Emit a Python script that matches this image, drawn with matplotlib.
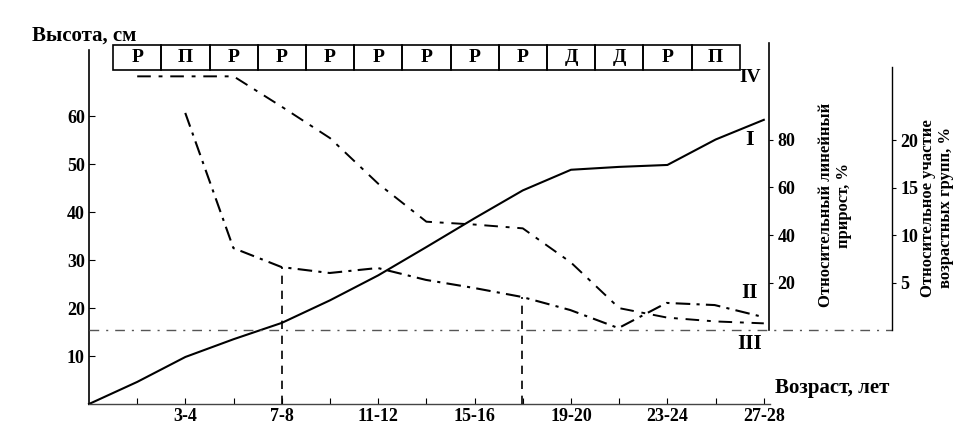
import numpy as np
import matplotlib
matplotlib.use('Agg')
import matplotlib.pyplot as plt
from matplotlib.patches import Rectangle

plt.rcParams['font.family'] = ['Liberation Serif', 'DejaVu Serif']
plt.rcParams['font.weight'] = 'bold'

# Age groups (index 1..14), labels under every second group
groups = np.arange(0, 15)
age_labels = ['', '', '3-4', '', '7-8', '', '11-12', '', '15-16', '', '19-20', '', '23-24', '', '27-28']

# I - height, cm (left axis)
height = [0, 4.6, 9.8, 13.5, 16.9, 21.6, 26.8, 32.7, 38.7, 44.5, 48.8, 49.4, 49.8, 55.1, 59.2]

# II - relative linear growth, % (groups 2..14)
growth_x = np.arange(2, 15)
growth = [91.4, 34.5, 26.5, 24.0, 26.1, 21.1, 17.7, 13.9, 8.4, 0.8, 11.4, 10.5, 5.5]

# IV - relative share of age groups, % (groups 1..14)
share_x = np.arange(1, 15)
share = [26.7, 26.7, 26.7, 23.5, 20.2, 15.4, 11.4, 11.1, 10.7, 7.1, 2.3, 1.3, 0.9, 0.7]

# letters in the boxes above groups 1..13
box_letters = ['Р', 'П', 'Р', 'Р', 'Р', 'Р', 'Р', 'Р', 'Р', 'Д', 'Д', 'Р', 'П']

# groups where vertical dashed lines drop from curve II
drop_groups = [4, 9]

W, H = 975, 444
PX = 48.2  # px per age group


def px_rect(x0, y0, x1, y1):
    return [x0 / W, (H - y1) / H, (x1 - x0) / W, (y1 - y0) / H]


fig = plt.figure(figsize=(W / 100, H / 100), dpi=100)

# main axes (height)
ax = fig.add_axes(px_rect(89, 50, 770, 404))
ax.set_xlim(0, (770 - 89) / PX)
ax.set_ylim(0, (404 - 50) / 4.8)
ax.spines['top'].set_visible(False)
ax.spines['right'].set_visible(False)
ax.spines['left'].set_linewidth(1.2)
ax.spines['bottom'].set_linewidth(1.0)
ax.spines['bottom'].set_color('#444444')
ax.set_yticks([10, 20, 30, 40, 50, 60])
ax.set_xticks(groups[1:])
ax.set_xticklabels(age_labels[1:])
ax.tick_params(axis='both', direction='in', length=4, labelsize=13, pad=3)
ax.patch.set_alpha(0)

# right axis 1 (relative linear growth)
ax2 = fig.add_axes(px_rect(89, 43, 769, 330))
ax2.set_xlim(ax.get_xlim())
ax2.set_ylim(0, (330 - 43) / 2.375)
for s in ['top', 'left', 'bottom']:
    ax2.spines[s].set_visible(False)
ax2.spines['right'].set_linewidth(1.2)
ax2.set_xticks([])
ax2.yaxis.tick_right()
ax2.set_yticks([20, 40, 60, 80])
ax2.tick_params(axis='y', direction='out', length=3, labelsize=13, pad=3)
ax2.patch.set_alpha(0)

# right axis 2 (relative share of age groups)
ax3 = fig.add_axes(px_rect(89, 67, 892, 330))
ax3.set_xlim(0, (892 - 89) / PX)
ax3.set_ylim(0, (330 - 67) / 9.5)
for s in ['top', 'left', 'bottom']:
    ax3.spines[s].set_visible(False)
ax3.spines['right'].set_linewidth(1.0)
ax3.set_xticks([])
ax3.yaxis.tick_right()
ax3.set_yticks([5, 10, 15, 20])
ax3.tick_params(axis='y', direction='out', length=3, labelsize=13, pad=3)
ax3.patch.set_alpha(0)

# curves
ax.plot(groups, height, color='black', lw=1.5, clip_on=False)
ax2.plot(growth_x, growth, color='black', lw=1.5, dashes=(7, 3, 1.5, 3), clip_on=False)
ax3.plot(share_x, share, color='black', lw=1.4, dashes=(7, 4, 2, 4), clip_on=False)
# III - horizontal reference line
ax3.axhline(0, color='#555555', lw=1.0, dashes=(7, 5, 1.5, 5), clip_on=False)

# vertical dashed drops from curve II to the age axis
fig.canvas.draw()
y_bottom = ax2.transData.inverted().transform(ax.transData.transform((0, 0)))[1]
for g in drop_groups:
    top = growth[list(growth_x).index(g)]
    ax2.vlines(g, y_bottom, top, colors='black', lw=1.2, linestyles=(0, (5, 4)), clip_on=False)

# row of boxes with letters
y_box0 = (404 - 70) / 4.8
y_box1 = (404 - 45) / 4.8
for k, letter in enumerate(box_letters):
    g = k + 1
    ax.add_patch(Rectangle((g - 0.5, y_box0), 1, y_box1 - y_box0, fill=False,
                           edgecolor='black', lw=1.2, clip_on=False))
    ax.text(g, (y_box0 + y_box1) / 2, letter, ha='center', va='center',
            fontsize=14, fontweight='bold', clip_on=False)

# curve labels
for name, ypx, fs in [('IV', 78, 14), ('I', 140, 16), ('II', 293, 15), ('III', 344, 15)]:
    fig.text(750 / W, (H - ypx) / H, name, ha='center', va='center', fontsize=fs, fontweight='bold')

# axis titles
fig.text(32 / W, (H - 41) / H, 'Высота, см', ha='left', va='baseline', fontsize=15, fontweight='bold')
fig.text(775 / W, (H - 393) / H, 'Возраст, лет', ha='left', va='baseline', fontsize=15, fontweight='bold')
fig.text(835 / W, (H - 205) / H, 'Относительный линейный\nприрост, %', rotation=90,
         ha='center', va='center', multialignment='center', fontsize=12, fontweight='bold', linespacing=1.2)
fig.text(937 / W, (H - 208) / H, 'Относительное участие\nвозрастных групп, %', rotation=90,
         ha='center', va='center', multialignment='center', fontsize=12, fontweight='bold', linespacing=1.2)

fig.savefig('out.png', dpi=100)
